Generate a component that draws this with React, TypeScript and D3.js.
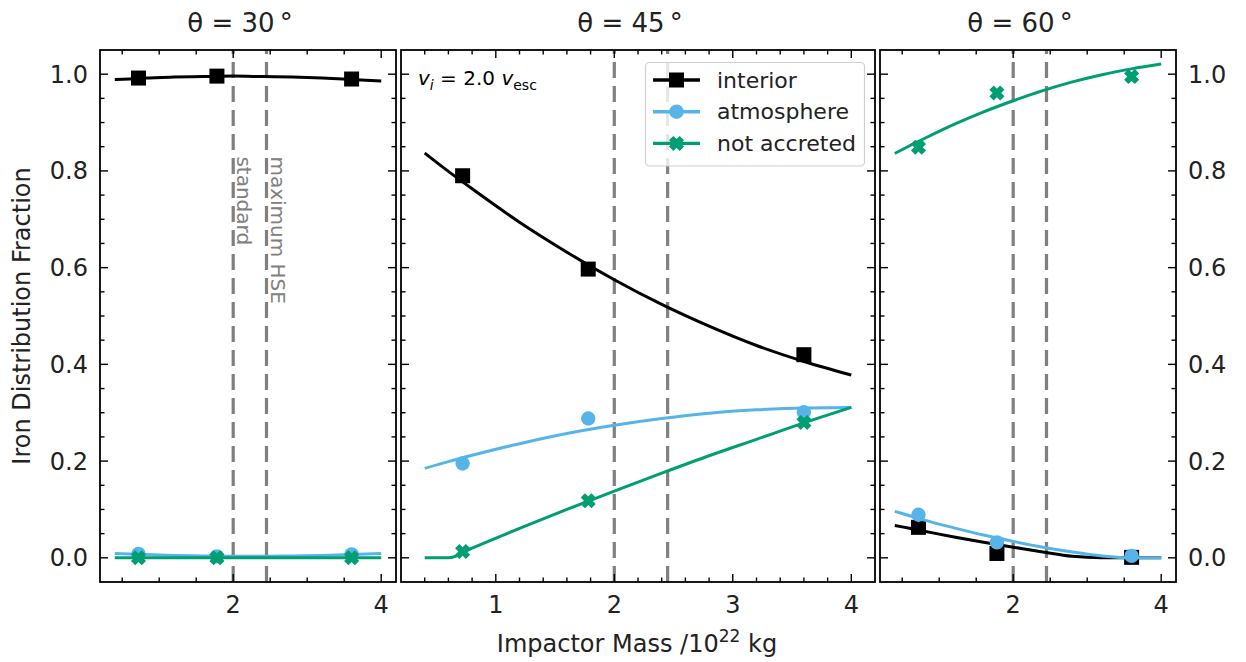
import React, { useEffect, useRef } from 'react';
import * as d3 from 'd3';

// impactor masses of the simulations (10^22 kg)
const massPoints = [0.72, 1.78, 3.6];
const fitMass = [0.4, 0.6, 0.8, 1.2, 1.6, 2.0, 2.4, 2.8, 3.2, 3.6, 4.0];

const angles = ['30', '45', '60'];
const seriesNames = ['interior', 'atmosphere', 'not accreted'];

// theta = 30
const interior30 = [0.992, 0.996, 0.990];
const atmosphere30 = [0.008, 0.003, 0.007];
const notAccreted30 = [0.0, 0.0, 0.0];
const interiorFit30 = [0.989, 0.99, 0.992, 0.994, 0.995, 0.996, 0.995, 0.994, 0.992, 0.989, 0.986];
const atmosphereFit30 = [0.009, 0.008, 0.007, 0.005, 0.004, 0.003, 0.003, 0.004, 0.005, 0.007, 0.009];
const notAccretedFit30 = [0, 0, 0, 0, 0, 0, 0, 0, 0, 0, 0];

// theta = 45
const interior45 = [0.79, 0.597, 0.42];
const atmosphere45 = [0.195, 0.288, 0.301];
const notAccreted45 = [0.013, 0.118, 0.28];
const interiorFit45 = [0.837, 0.799, 0.763, 0.694, 0.632, 0.575, 0.524, 0.479, 0.439, 0.406, 0.378];
const atmosphereFit45 = [0.185, 0.199, 0.212, 0.236, 0.257, 0.274, 0.288, 0.299, 0.306, 0.31, 0.311];
const notAccretedFit45 = [0, 0, 0.02, 0.061, 0.1, 0.138, 0.175, 0.211, 0.245, 0.279, 0.311];

// theta = 60
const interior60 = [0.063, 0.009, 0.001];
const atmosphere60 = [0.089, 0.032, 0.004];
const notAccreted60 = [0.849, 0.961, 0.995];
const interiorFit60 = [0.067, 0.061, 0.055, 0.043, 0.032, 0.022, 0.012, 0.003, 0, 0, 0];
const atmosphereFit60 = [0.096, 0.087, 0.078, 0.062, 0.047, 0.034, 0.022, 0.012, 0.004, 0, 0];
const notAccretedFit60 = [0.836, 0.852, 0.867, 0.896, 0.922, 0.945, 0.966, 0.984, 0.999, 1.011, 1.021];

// reference lines
const standardMass = 2.0;
const maxHseMass = 2.45;

const yTicks = [0, 0.2, 0.4, 0.6, 0.8, 1.0];

const colors = ['#000000', '#56B4E9', '#009E73'];
const FONT = 'DejaVu Sans, sans-serif';
const TEXT = '#222222';

const W = 1246;
const H = 662;
const top = 50;
const bottom = 582;
const boxes = [
  { x0: 100, x1: 396 },
  { x0: 401, x1: 875 },
  { x0: 880, x1: 1176 },
];

const xPath = (r: number) => {
  const a = r;
  const b = r * 0.4;
  const pts = [
    [-b, -a], [b, -a], [b, -b], [a, -b], [a, b], [b, b],
    [b, a], [-b, a], [-b, b], [-a, b], [-a, -b], [-b, -b],
  ].map(([x, y]) => [(x - y) / Math.SQRT2, (x + y) / Math.SQRT2]);
  return 'M' + pts.map((p) => p.join(',')).join('L') + 'Z';
};

// marker for a series: square, circle, filled X
const drawMarker = (sel: any, si: number, cx: number, cy: number) => {
  if (si === 0) {
    sel.append('rect').attr('x', cx - 7.5).attr('y', cy - 7.5).attr('width', 15).attr('height', 15).attr('fill', colors[si]);
  } else if (si === 1) {
    sel.append('circle').attr('cx', cx).attr('cy', cy).attr('r', 7.2).attr('fill', colors[si]);
  } else {
    sel.append('path').attr('d', xPath(7.6)).attr('transform', `translate(${cx},${cy})`).attr('fill', colors[si]);
  }
};

const App: React.FC = () => {
  const ref = useRef<SVGSVGElement | null>(null);

  useEffect(() => {
    if (!ref.current) return;
    const svg = d3.select(ref.current);
    svg.selectAll('*').remove();

    const panels = [
      {
        pts: [interior30, atmosphere30, notAccreted30],
        fits: [interiorFit30, atmosphereFit30, notAccretedFit30],
        major: [2, 4],
        minor: [0.5, 1, 1.5, 2.5, 3, 3.5],
      },
      {
        pts: [interior45, atmosphere45, notAccreted45],
        fits: [interiorFit45, atmosphereFit45, notAccretedFit45],
        major: [1, 2, 3, 4],
        minor: d3.range(2, 21).map((i) => i / 5).filter((v) => Math.abs(v - Math.round(v)) > 1e-6),
      },
      {
        pts: [interior60, atmosphere60, notAccreted60],
        fits: [interiorFit60, atmosphereFit60, notAccretedFit60],
        major: [2, 4],
        minor: [0.5, 1, 1.5, 2.5, 3, 3.5],
      },
    ];

    const y = d3.scaleLinear().domain([-0.05, 1.05]).range([bottom, top]);
    const yMinor = d3.range(0, 21).map((i) => i * 0.05).filter((v) => !yTicks.some((t) => Math.abs(t - v) < 1e-6));

    panels.forEach((p, pi) => {
      const box = boxes[pi];
      const x = d3.scaleLinear().domain([0.2, 4.2]).range([box.x0, box.x1]);
      const g = svg.append('g');

      const clipId = `clip${pi}`;
      svg.append('clipPath').attr('id', clipId)
        .append('rect').attr('x', box.x0).attr('y', top).attr('width', box.x1 - box.x0).attr('height', bottom - top);
      const plot = g.append('g').attr('clip-path', `url(#${clipId})`);

      // reference lines
      [standardMass, maxHseMass].forEach((m) => {
        plot.append('line')
          .attr('x1', x(m)).attr('x2', x(m))
          .attr('y1', bottom).attr('y2', top)
          .attr('stroke', '#808080').attr('stroke-width', 3.2)
          .attr('stroke-dasharray', '16,8');
      });

      if (pi === 0) {
        [['standard', standardMass], ['maximum HSE', maxHseMass]].forEach(([label, m]) => {
          const tx = x(m as number) + 4;
          const ty = y(0.83);
          g.append('text')
            .attr('transform', `translate(${tx},${ty}) rotate(90)`)
            .attr('font-family', FONT).attr('font-size', 20)
            .attr('fill', '#808080')
            .text(label as string);
        });
      }

      const line = d3.line<number>()
        .x((_, i) => x(fitMass[i]))
        .y((d) => y(d))
        .curve(d3.curveMonotoneX);

      p.fits.forEach((f, si) => {
        plot.append('path')
          .attr('d', line(f) as string)
          .attr('fill', 'none')
          .attr('stroke', colors[si])
          .attr('stroke-width', 3);

        p.pts[si].forEach((v, i) => drawMarker(plot, si, x(massPoints[i]), y(v)));
      });

      // ticks (inward, all sides)
      const tk = g.append('g').attr('stroke', '#000').attr('stroke-width', 1.4);
      p.major.forEach((t) => {
        tk.append('line').attr('x1', x(t)).attr('x2', x(t)).attr('y1', bottom).attr('y2', bottom - 8);
        tk.append('line').attr('x1', x(t)).attr('x2', x(t)).attr('y1', top).attr('y2', top + 8);
      });
      p.minor.forEach((t) => {
        tk.append('line').attr('x1', x(t)).attr('x2', x(t)).attr('y1', bottom).attr('y2', bottom - 4.5);
        tk.append('line').attr('x1', x(t)).attr('x2', x(t)).attr('y1', top).attr('y2', top + 4.5);
      });
      yTicks.forEach((t) => {
        tk.append('line').attr('x1', box.x0).attr('x2', box.x0 + 8).attr('y1', y(t)).attr('y2', y(t));
        tk.append('line').attr('x1', box.x1).attr('x2', box.x1 - 8).attr('y1', y(t)).attr('y2', y(t));
      });
      yMinor.forEach((t) => {
        tk.append('line').attr('x1', box.x0).attr('x2', box.x0 + 4.5).attr('y1', y(t)).attr('y2', y(t));
        tk.append('line').attr('x1', box.x1).attr('x2', box.x1 - 4.5).attr('y1', y(t)).attr('y2', y(t));
      });

      // frame
      g.append('rect')
        .attr('x', box.x0).attr('y', top)
        .attr('width', box.x1 - box.x0).attr('height', bottom - top)
        .attr('fill', 'none').attr('stroke', '#000').attr('stroke-width', 1.8);

      // x tick labels
      p.major.forEach((t) => {
        g.append('text')
          .attr('x', x(t)).attr('y', bottom + 31)
          .attr('text-anchor', 'middle')
          .attr('font-family', FONT).attr('font-size', 24).attr('fill', TEXT)
          .text(String(t));
      });

      // y tick labels
      if (pi === 0 || pi === 2) {
        yTicks.forEach((t) => {
          g.append('text')
            .attr('x', pi === 0 ? box.x0 - 12 : box.x1 + 12)
            .attr('y', y(t) + 8.5)
            .attr('text-anchor', pi === 0 ? 'end' : 'start')
            .attr('font-family', FONT).attr('font-size', 24).attr('fill', TEXT)
            .text(t.toFixed(1));
        });
      }

      // title
      g.append('text')
        .attr('x', (box.x0 + box.x1) / 2 - 8).attr('y', 32)
        .attr('text-anchor', 'middle')
        .attr('font-family', FONT).attr('font-size', 26).attr('fill', TEXT)
        .text(`θ = ${angles[pi]}\u2009°`);

      if (pi === 1) {
        // velocity annotation
        const vt = g.append('text')
          .attr('x', box.x0 + 17).attr('y', 85)
          .attr('font-family', FONT).attr('font-size', 20).attr('fill', '#000');
        vt.append('tspan').attr('font-style', 'italic').text('v');
        vt.append('tspan').attr('font-style', 'italic').attr('font-size', 14).attr('dy', 5).text('i');
        vt.append('tspan').attr('dy', -5).text(' = 2.0 ');
        vt.append('tspan').attr('font-style', 'italic').text('v');
        vt.append('tspan').attr('font-size', 14).attr('dy', 5).text('esc');

        // legend
        const lg = g.append('g');
        lg.append('rect')
          .attr('x', 645.5).attr('y', 62.5).attr('width', 219).attr('height', 103.5)
          .attr('rx', 4)
          .attr('fill', 'rgba(255,255,255,0.8)')
          .attr('stroke', '#d0d0d0').attr('stroke-width', 1.2);
        seriesNames.forEach((name, si) => {
          const ly = 80 + si * 31.7;
          lg.append('line').attr('x1', 653).attr('x2', 700).attr('y1', ly).attr('y2', ly)
            .attr('stroke', colors[si]).attr('stroke-width', 3.4);
          drawMarker(lg, si, 676.5, ly);
          lg.append('text')
            .attr('x', 717).attr('y', ly + 7.5)
            .attr('font-family', FONT).attr('font-size', 22).attr('fill', TEXT)
            .text(name);
        });
      }
    });

    // axis labels
    const xl = svg.append('text')
      .attr('x', 637).attr('y', 652)
      .attr('text-anchor', 'middle')
      .attr('font-family', FONT).attr('font-size', 24).attr('fill', TEXT);
    xl.append('tspan').text('Impactor Mass /10');
    xl.append('tspan').attr('font-size', 17).attr('dy', -10).text('22');
    xl.append('tspan').attr('dy', 10).text(' kg');

    svg.append('text')
      .attr('transform', `translate(30,${(top + bottom) / 2}) rotate(-90)`)
      .attr('text-anchor', 'middle')
      .attr('font-family', FONT).attr('font-size', 24).attr('fill', TEXT)
      .text('Iron Distribution Fraction');
  }, []);

  return (
    <svg
      ref={ref}
      width={W}
      height={H}
      style={{ position: 'absolute', left: 0, top: 0, background: '#fff' }}
    ></svg>
  );
};

export default App;
